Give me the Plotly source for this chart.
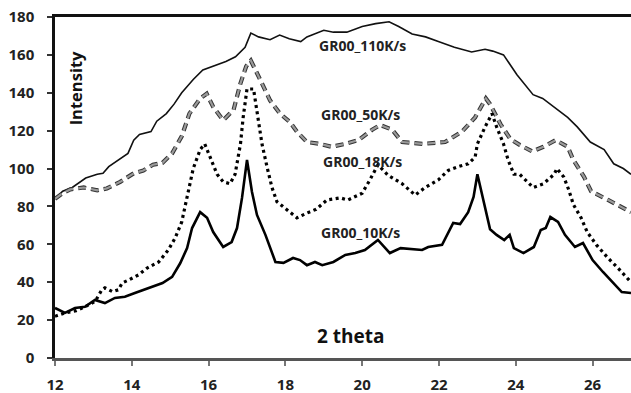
import plotly.graph_objects as go

# ---- data ----
x_110 = [12, 12.2, 12.45, 12.8, 13.1, 13.25, 13.4, 13.7, 13.9, 14.05, 14.2, 14.5, 14.65, 14.9, 15.1,
         15.3, 15.6, 15.85, 16.1, 16.45, 16.7, 16.95, 17.1, 17.3, 17.6, 17.85, 18.1, 18.4, 18.56,
         18.75, 19.0, 19.25, 19.6, 20.0, 20.35, 20.7, 20.95, 21.3, 21.65, 22.0, 22.4, 22.85, 23.2,
         23.4, 23.68, 24.03, 24.45, 24.7, 25.08, 25.35, 25.6, 25.94, 26.3, 26.55, 26.8, 27.0]
y_110 = [84, 88, 90, 95, 97, 97.5, 101, 105, 108, 115, 118, 119.5, 125, 129, 134,
         140, 147, 152, 154, 156.5, 159, 164, 171.5, 169.5, 168, 170.5, 168.5, 167, 169.5,
         171, 173, 172, 172, 175, 176.5, 177.5, 175, 171, 169.5, 167, 164, 161.5, 163,
         162, 160, 149.5, 139, 137, 131, 127, 122, 114, 110, 102.5, 100, 97]

x_50 = [12, 12.2, 12.4, 12.75, 13.1, 13.35, 13.7, 14.05, 14.3, 14.55, 14.8, 15.05, 15.3, 15.5,
        15.78, 15.95, 16.12, 16.38, 16.65, 16.83, 16.98, 17.1, 17.34, 17.6, 17.86, 18.12, 18.3,
        18.56, 18.9, 19.2, 19.56, 19.9, 20.26, 20.47, 20.78, 21.04, 21.57, 22.16, 22.6, 22.94,
        23.22, 23.33, 23.6, 23.86, 24.1, 24.43, 24.72, 25.04, 25.35, 25.5, 25.78, 25.96, 26.4, 27.0]
y_50 = [84, 87, 89, 90, 88.5, 89.5, 93, 97.5, 99, 102, 103, 108, 117, 129,
        137, 139.5, 132.5, 125.5, 131, 145, 154, 157, 147, 136, 129, 124.5, 119.5,
        114, 113, 111.5, 113, 115, 120.5, 123, 120.5, 114, 113, 114, 119.5, 127,
        137, 134, 123.5, 115.5, 112.5, 109, 111.5, 115, 111.5, 104.5, 95.5, 88, 83.5, 77]

x_18 = [12, 12.26, 12.55, 12.78, 13.05, 13.22, 13.3, 13.5, 13.65, 13.75, 13.9, 14.17, 14.4, 14.7,
        14.95, 15.13, 15.3, 15.44, 15.6, 15.78, 15.9, 16.04, 16.22, 16.38, 16.56, 16.69, 16.83,
        16.9, 17.0, 17.17, 17.26, 17.39, 17.52, 17.65, 17.78, 18.04, 18.3, 18.56, 18.8, 19.08,
        19.43, 19.63, 20.0, 20.2, 20.41, 20.67, 21.04, 21.38, 21.64, 21.98, 22.24, 22.5, 22.76,
        22.94, 23.0, 23.2, 23.38, 23.5, 23.68, 23.8, 23.95, 24.1, 24.3, 24.45, 24.72, 25.0,
        25.07, 25.25, 25.38, 25.5, 25.7, 25.86, 26.1, 26.4, 26.66, 27.0]
y_18 = [22, 23.8, 25, 27, 30, 36, 37, 35, 36, 39.6, 41, 43.8, 47.5, 50.7,
        57, 63.4, 71.8, 84.5, 100, 110, 113, 106, 97, 93, 92, 97, 113,
        127, 142, 142, 129, 113, 101, 90, 82.5, 78, 74, 76.5, 78.5, 83.4,
        84.5, 83.4, 87, 94, 102, 96.5, 92, 86, 90, 94, 99, 101, 102.5,
        106, 113, 122, 129, 122, 113, 104.5, 97, 97, 93, 90, 92, 97,
        100, 95.5, 88.7, 81, 74, 66.5, 59.7, 52.8, 47.5, 40]

x_10 = [12, 12.13, 12.26, 12.52, 12.78, 13.04, 13.3, 13.56, 13.82, 14.08, 14.43, 14.8, 15.05,
        15.26, 15.44, 15.57, 15.78, 15.96, 16.12, 16.38, 16.6, 16.74, 16.87, 17.0, 17.13, 17.26,
        17.48, 17.65, 17.74, 17.95, 18.2, 18.38, 18.56, 18.77, 18.96, 19.25, 19.56, 19.82, 20.07,
        20.41, 20.72, 21.0, 21.56, 21.72, 22.08, 22.37, 22.55, 22.76, 22.9, 23.0, 23.17, 23.33,
        23.5, 23.7, 23.84, 23.95, 24.2, 24.47, 24.65, 24.78, 24.9, 25.1, 25.28, 25.54, 25.75,
        26.0, 26.27, 26.53, 26.76, 27.0]
y_10 = [26.4, 25.3, 23.8, 26.4, 27, 30.6, 29, 31.7, 32.3, 34.3, 37, 39.6, 42.8,
        50, 58, 68.6, 77, 74, 66.5, 58.6, 61.2, 68.6, 84.5, 104.5, 87.6, 75.5,
        65, 56, 50.7, 50.2, 52.8, 51.7, 49, 50.7, 49, 50.7, 54.4, 55.4, 57,
        62.3, 55.4, 58, 57, 58.6, 59.7, 71.3, 70.7, 77, 85, 97, 81.8, 68,
        65, 62.3, 65, 58, 55.4, 58.6, 67.6, 68.6, 74.4, 71.8, 65, 58.6, 60.7,
        51.7, 45.4, 40, 34.8, 34.3]

x_ticks = [12, 14, 16, 18, 20, 22, 24, 26]
y_ticks = [0, 20, 40, 60, 80, 100, 120, 140, 160, 180]

labels = ["GR00_110K/s", "GR00_50K/s", "GR00_18K/s", "GR00_10K/s"]
label_x = [20.0, 19.95, 20.0, 19.95]
label_y = [165, 128.5, 103.5, 66]

FONT = "Open Sans"

fig = go.Figure()
fig.add_trace(go.Scatter(x=x_110, y=y_110, mode="lines", name=labels[0],
                         line=dict(color="#111111", width=1.6)))
# dashed gray with dark outline
fig.add_trace(go.Scatter(x=x_50, y=y_50, mode="lines", name=labels[1], showlegend=False,
                         line=dict(color="#333333", width=4.2, dash="8px,5px")))
fig.add_trace(go.Scatter(x=x_50, y=y_50, mode="lines", name=labels[1],
                         line=dict(color="#9a9a9a", width=2.2, dash="8px,5px")))
fig.add_trace(go.Scatter(x=x_18, y=y_18, mode="lines", name=labels[2],
                         line=dict(color="#000000", width=3.2, dash="3px,3.5px")))
fig.add_trace(go.Scatter(x=x_10, y=y_10, mode="lines", name=labels[3],
                         line=dict(color="#000000", width=2.6)))
# invisible trace that carries the top (mirror) axis line
fig.add_trace(go.Scatter(x=x_110, y=y_110, xaxis="x2", mode="lines", showlegend=False,
                         hoverinfo="skip", opacity=0, line=dict(width=0)))

for t, lx, ly in zip(labels, label_x, label_y):
    fig.add_annotation(x=lx, y=ly, xref="x", yref="y", text=t, showarrow=False,
                       xanchor="center", yanchor="middle",
                       font=dict(family=FONT, size=14, color="#222222", weight="bold"))

fig.add_annotation(x=0.036, y=0.79, xref="paper", yref="paper", text="Intensity",
                   textangle=-90, showarrow=False, xanchor="center", yanchor="middle",
                   font=dict(family=FONT, size=16.5, color="#111111", weight="bold"))
fig.add_annotation(x=19.7, y=11.5, xref="x", yref="y", text="2 theta", showarrow=False,
                   xanchor="center", yanchor="middle",
                   font=dict(family=FONT, size=19, color="#111111", weight="bold"))

fig.update_layout(
    width=631, height=393,
    margin=dict(l=55, r=0, t=17, b=35),
    paper_bgcolor="white", plot_bgcolor="white",
    showlegend=False,
    xaxis=dict(range=[12, 27], tickvals=x_ticks, ticktext=[str(v) for v in x_ticks],
               showgrid=False, zeroline=False, showline=True, linecolor="#555555", linewidth=3,
               ticks="outside", ticklen=5, tickwidth=1.5, tickcolor="#777777",
               tickfont=dict(family=FONT, size=15, color="#222222", weight="bold"),
               ticklabelstandoff=6),
    xaxis2=dict(range=[12, 27], overlaying="x", side="top", showline=True,
                linecolor="#111111", linewidth=2.5, showgrid=False, zeroline=False,
                ticks="", showticklabels=False),
    yaxis=dict(range=[0, 180], tickvals=y_ticks, ticktext=[str(v) for v in y_ticks],
               showgrid=False, zeroline=False, showline=True, linecolor="#111111", linewidth=2.5,
               ticks="outside", ticklen=5, tickwidth=1.5, tickcolor="#333333",
               tickfont=dict(family=FONT, size=15, color="#222222", weight="bold"),
               ticklabelstandoff=10),
)

fig.write_html("out.html", config={"displayModeBar": False},
               post_script="document.body.style.margin='0';document.body.style.overflow='hidden';")
